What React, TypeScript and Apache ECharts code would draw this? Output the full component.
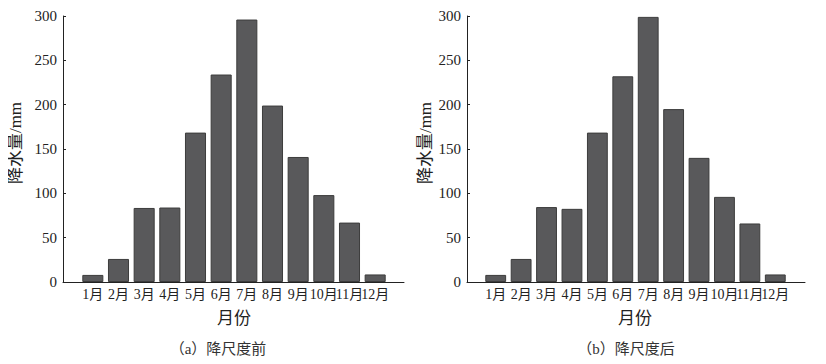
import React, { useEffect, useRef } from "react";
import * as echarts from "echarts";

const months = ["1月", "2月", "3月", "4月", "5月", "6月", "7月", "8月", "9月", "10月", "11月", "12月"];
const beforeValues = [8, 26, 83.5, 84, 168.5, 234, 296, 199, 141, 98, 67, 8.5];
const afterValues = [8, 26, 84.5, 82.5, 168.5, 232, 299, 195, 140, 96, 66, 8.5];
const yMin = 0;
const yMax = 300;
const yInterval = 50;
const yName = "降水量/mm";
const xName = "月份";
const captions = ["（a）降尺度前", "（b）降尺度后"];

const serif = "Liberation Serif";
const mixed = "Liberation Serif, Noto Sans CJK SC";

export default function App() {
  const ref = useRef<HTMLDivElement>(null);
  useEffect(() => {
    if (!ref.current) return;
    const chart = echarts.init(ref.current, undefined, { renderer: "svg" });
    const top = 16;
    const height = 266;
    const panels = [
      { axisL: 63, axisR: 404, barL: 80, barR: 388, data: beforeValues, yNameX: 15, xNameX: 234, capX: 218 },
      { axisL: 467, axisR: 805, barL: 483, barR: 788, data: afterValues, yNameX: 425, xNameX: 635, capX: 626 },
    ];
    const grids: any[] = [];
    const xAxes: any[] = [];
    const yAxes: any[] = [];
    const series: any[] = [];
    const graphics: any[] = [];
    panels.forEach((p, i) => {
      const gA = grids.length;
      grids.push({ left: p.axisL, width: p.axisR - p.axisL, top, height });
      grids.push({ left: p.barL, width: p.barR - p.barL, top, height });
      xAxes.push({
        gridIndex: gA,
        type: "value",
        min: 0,
        max: 1,
        axisLine: { show: true, lineStyle: { color: "#222", width: 1 } },
        axisTick: { show: false },
        axisLabel: { show: false },
        splitLine: { show: false },
      });
      yAxes.push({
        gridIndex: gA,
        type: "value",
        min: yMin,
        max: yMax,
        interval: yInterval,
        axisLine: { show: true, lineStyle: { color: "#222", width: 1 } },
        axisTick: { show: true, inside: true, length: 3, lineStyle: { color: "#222" } },
        axisLabel: { color: "#222", fontSize: 15, fontFamily: serif, margin: 6 },
        splitLine: { show: false },
      });
      xAxes.push({
        gridIndex: gA + 1,
        type: "category",
        data: months,
        axisLine: { show: false },
        axisTick: { show: true, inside: true, length: 3, alignWithLabel: true, lineStyle: { color: "#333" } },
        axisLabel: { color: "#222", fontSize: 14, fontFamily: mixed, margin: 5, interval: 0 },
      });
      yAxes.push({
        gridIndex: gA + 1,
        type: "value",
        min: yMin,
        max: yMax,
        interval: yInterval,
        show: false,
        splitLine: { show: false },
      });
      series.push({
        type: "bar",
        xAxisIndex: gA + 1,
        yAxisIndex: gA + 1,
        data: p.data,
        barCategoryGap: "18%",
        itemStyle: { color: "#59595b", borderColor: "#3c3c3c", borderWidth: 1 },
        z: 3,
      });
      graphics.push({
        type: "text",
        x: p.yNameX,
        y: 143,
        rotation: Math.PI / 2,
        style: {
          text: yName,
          fill: "#222",
          fontSize: 17,
          fontFamily: mixed,
          align: "center",
          verticalAlign: "middle",
        },
      });
      graphics.push({
        type: "text",
        x: p.xNameX,
        y: 318,
        style: { text: xName, fill: "#222", fontSize: 17, fontFamily: mixed, align: "center", verticalAlign: "middle" },
      });
      graphics.push({
        type: "text",
        x: p.capX,
        y: 349,
        style: { text: captions[i], fill: "#333", fontSize: 15, fontFamily: mixed, align: "center", verticalAlign: "middle" },
      });
    });
    chart.setOption({
      animation: false,
      backgroundColor: "#fff",
      grid: grids,
      xAxis: xAxes,
      yAxis: yAxes,
      series,
      graphic: graphics,
    });
    return () => chart.dispose();
  }, []);
  return <div ref={ref} style={{ width: 826, height: 364, margin: -8 }} />;
}
